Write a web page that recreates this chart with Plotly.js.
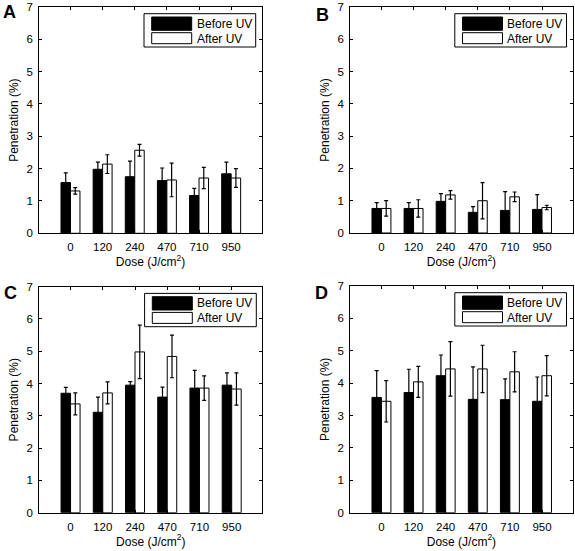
<!DOCTYPE html>
<html>
<head>
<meta charset="utf-8">
<script src="https://cdn.plot.ly/plotly-3.0.1.min.js"></script>
<style>html,body{margin:0;padding:0;background:#fff;}#chart{width:575px;height:551px;}</style>
</head>
<body>
<div id="chart"></div>
<script>
// ---- data ----
var doses = ['0', '120', '240', '470', '710', '950'];
var seriesNames = ['Before UV', 'After UV'];
var panelLabels = ['A', 'B', 'C', 'D'];
var xTitle = 'Dose (J/cm<sup>2</sup>)';
var yTitle = 'Penetration (%)';
var yTickVals = [0, 1, 2, 3, 4, 5, 6, 7];

var aBefore    = [1.57, 1.98, 1.75, 1.63, 1.17, 1.84];
var aBeforeErr = [0.30, 0.22, 0.48, 0.39, 0.22, 0.36];
var aAfter     = [1.31, 2.14, 2.57, 1.65, 1.71, 1.71];
var aAfterErr  = [0.10, 0.29, 0.18, 0.52, 0.33, 0.29];

var bBefore    = [0.76, 0.76, 0.98, 0.64, 0.70, 0.73];
var bBeforeErr = [0.18, 0.18, 0.24, 0.18, 0.58, 0.46];
var bAfter     = [0.76, 0.76, 1.18, 1.00, 1.12, 0.79];
var bAfterErr  = [0.24, 0.27, 0.13, 0.56, 0.15, 0.07];

var cBefore    = [3.70, 3.11, 3.95, 3.58, 3.86, 3.95];
var cBeforeErr = [0.18, 0.47, 0.11, 0.31, 0.55, 0.38];
var cAfter     = [3.37, 3.71, 4.98, 4.84, 3.86, 3.83];
var cAfterErr  = [0.34, 0.34, 0.83, 0.66, 0.38, 0.50];

var dBefore    = [3.56, 3.71, 4.23, 3.50, 3.49, 3.44];
var dBeforeErr = [0.83, 0.72, 0.64, 1.00, 0.64, 0.75];
var dAfter     = [3.44, 4.04, 4.44, 4.44, 4.35, 4.23];
var dAfterErr  = [0.64, 0.48, 0.84, 0.73, 0.62, 0.62];

// ---- layout geometry (pixels) ----
var W = 575, H = 551;
var FONT = 'Liberation Sans, Arial, Helvetica, sans-serif';
var panels = [
  {before: aBefore, beforeErr: aBeforeErr, after: aAfter, afterErr: aAfterErr, x0: 39.3, x1: 261.7, yTop: 7, yBot: 233.3, lx: 2, ly: 1},
  {before: bBefore, beforeErr: bBeforeErr, after: bAfter, afterErr: bAfterErr, x0: 350.3, x1: 572.5, yTop: 7, yBot: 233.0, lx: 315, ly: 4},
  {before: cBefore, beforeErr: cBeforeErr, after: cAfter, afterErr: cAfterErr, x0: 39.3, x1: 262.3, yTop: 286.7, yBot: 512.7, lx: 3, ly: 282},
  {before: dBefore, beforeErr: dBeforeErr, after: dAfter, afterErr: dAfterErr, x0: 350.3, x1: 572.5, yTop: 286.0, yBot: 512.7, lx: 313.5, ly: 282}
];
function px(x) { return x / W; }
function py(y) { return 1 - y / H; }

var data = [];
var layout = {
  width: W, height: H,
  margin: {l: 0, r: 0, t: 0, b: 0},
  paper_bgcolor: '#fff', plot_bgcolor: '#fff',
  font: {family: FONT, size: 11.5, color: '#000'},
  showlegend: false,
  barmode: 'group',
  bargap: 0.41,
  bargroupgap: 0,
  shapes: [],
  annotations: []
};

panels.forEach(function (p, i) {
  var sfx = i === 0 ? '' : String(i + 1);
  var xa = 'x' + sfx, ya = 'y' + sfx;
  data.push({
    type: 'bar', name: seriesNames[0], x: doses, y: p.before,
    xaxis: xa, yaxis: ya,
    marker: {color: '#000', line: {color: '#000', width: 1}},
    error_y: {type: 'data', array: p.beforeErr, visible: true, color: '#000', thickness: 1.2, width: 2}
  });
  data.push({
    type: 'bar', name: seriesNames[1], x: doses, y: p.after,
    xaxis: xa, yaxis: ya,
    marker: {color: '#fff', line: {color: '#000', width: 1}},
    error_y: {type: 'data', array: p.afterErr, visible: true, color: '#000', thickness: 1.2, width: 2}
  });
  var common = {
    showline: true, linecolor: '#000', linewidth: 1, mirror: 'ticks',
    ticks: 'inside', ticklen: 3, tickcolor: '#000', tickwidth: 1,
    showgrid: false, zeroline: false, fixedrange: true,
    tickfont: {family: FONT, size: 11.5, color: '#000'}
  };
  layout['xaxis' + sfx] = Object.assign({}, common, {
    anchor: ya, domain: [px(p.x0), px(p.x1)],
    type: 'category', range: [-0.97, 5.95],
    ticklabelstandoff: 3,
    title: {text: xTitle, font: {family: FONT, size: 12, color: '#000'}, standoff: 5}
  });
  layout['yaxis' + sfx] = Object.assign({}, common, {
    anchor: xa, domain: [py(p.yBot), py(p.yTop)],
    range: [0, 7], tickvals: yTickVals,
    ticklabelstandoff: 3,
    title: {text: yTitle, font: {family: FONT, size: 12, color: '#000'}, standoff: 5}
  });

  // legend box (drawn manually to match the wide swatches)
  var bx0 = p.x1 - 117.7, bx1 = p.x1 - 6, by0 = p.yTop + 6.7, by1 = p.yTop + 40;
  layout.shapes.push({type: 'rect', xref: 'paper', yref: 'paper', x0: px(bx0), x1: px(bx1), y0: py(by1), y1: py(by0),
    line: {color: '#000', width: 1}, fillcolor: '#fff', layer: 'above'});
  layout.shapes.push({type: 'rect', xref: 'paper', yref: 'paper', x0: px(bx0 + 7.7), x1: px(bx0 + 47.7), y0: py(by0 + 16.6), y1: py(by0 + 3.3),
    line: {color: '#000', width: 1}, fillcolor: '#000', layer: 'above'});
  layout.shapes.push({type: 'rect', xref: 'paper', yref: 'paper', x0: px(bx0 + 7.7), x1: px(bx0 + 47.7), y0: py(by0 + 30), y1: py(by0 + 19),
    line: {color: '#000', width: 1}, fillcolor: '#fff', layer: 'above'});
  layout.annotations.push({xref: 'paper', yref: 'paper', x: px(bx0 + 50.5), y: py(by0 + 10),
    xanchor: 'left', yanchor: 'middle', showarrow: false, text: seriesNames[0],
    font: {family: FONT, size: 12, color: '#000'}});
  layout.annotations.push({xref: 'paper', yref: 'paper', x: px(bx0 + 50.5), y: py(by0 + 25),
    xanchor: 'left', yanchor: 'middle', showarrow: false, text: seriesNames[1],
    font: {family: FONT, size: 12, color: '#000'}});
  // panel letter
  layout.annotations.push({xref: 'paper', yref: 'paper', x: px(p.lx), y: py(p.ly),
    xanchor: 'left', yanchor: 'top', showarrow: false, text: '<b>' + panelLabels[i] + '</b>',
    font: {family: FONT, size: 18, color: '#000'}, borderpad: 0});
});

Plotly.newPlot('chart', data, layout, {staticPlot: true, displayModeBar: false});
</script>
</body>
</html>
